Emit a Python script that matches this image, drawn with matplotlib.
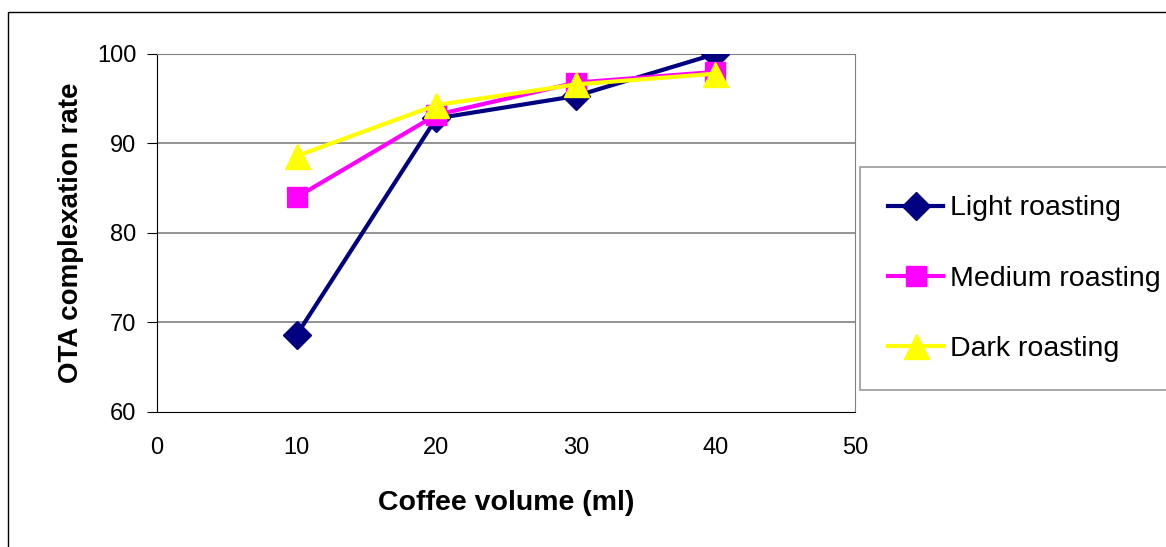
import matplotlib.pyplot as plt
from matplotlib.patches import Rectangle

# ---- datos ----
volumen = [10, 20, 30, 40]
light = [68.6, 92.8, 95.3, 100.0]
medium = [84.0, 93.2, 96.8, 98.0]
dark = [88.6, 94.3, 96.6, 97.8]
series_names = ["Light roasting", "Medium roasting", "Dark roasting"]

plt.rcParams["font.family"] = ["Liberation Sans", "DejaVu Sans"]

W, H = 1166, 547
fig = plt.figure(figsize=(W / 100, H / 100), dpi=100)

# marco exterior (estilo Excel)
fig.patches.append(Rectangle((8 / W, -0.1), 1.2, 1 - 12 / H + 0.1, transform=fig.transFigure,
                             fill=False, edgecolor="black", lw=1.0))

ax = fig.add_axes([157 / W, 1 - 412 / H, (855 - 157) / W, (412 - 54) / H])

ax.plot(volumen, light, color="#000080", lw=3, marker="D", ms=14, label=series_names[0], zorder=3)
ax.plot(volumen, medium, color="#FF00FF", lw=3, marker="s", ms=15, label=series_names[1], zorder=4)
ax.plot(volumen, dark, color="#FFFF00", lw=3, marker="^", ms=18, label=series_names[2], zorder=5)

ax.set_xlim(0, 50)
ax.set_ylim(60, 100)
ax.set_xticks(range(0, 51, 10))
ax.set_yticks(range(60, 101, 10))
for y in [70, 80, 90, 100]:
    ax.axhline(y, color="#808080", lw=1.2, zorder=1)

ax.spines["top"].set_color("#808080")
ax.spines["right"].set_color("#808080")
ax.spines["left"].set_color("black")
ax.spines["bottom"].set_color("black")
ax.tick_params(direction="out", length=7, labelsize=17, pad=8)
ax.tick_params(axis="x", length=0, pad=18)

ax.set_xlabel("Coffee volume (ml)", fontsize=20.5, fontweight="bold", labelpad=22)
ax.set_ylabel("OTA complexation rate", fontsize=20, fontweight="bold", labelpad=9)

# la caja de la leyenda sale por la derecha, como en el original
leg = fig.legend(loc="upper left", bbox_to_anchor=(860 / W, 1 - 167 / H), fontsize=20.5,
                 frameon=True, fancybox=False, edgecolor="#808080", borderpad=1.0,
                 labelspacing=1.55, handlelength=1.9, handletextpad=0.25, borderaxespad=0)
leg.get_frame().set_linewidth(1.2)

fig.savefig("out.png", dpi=100)
